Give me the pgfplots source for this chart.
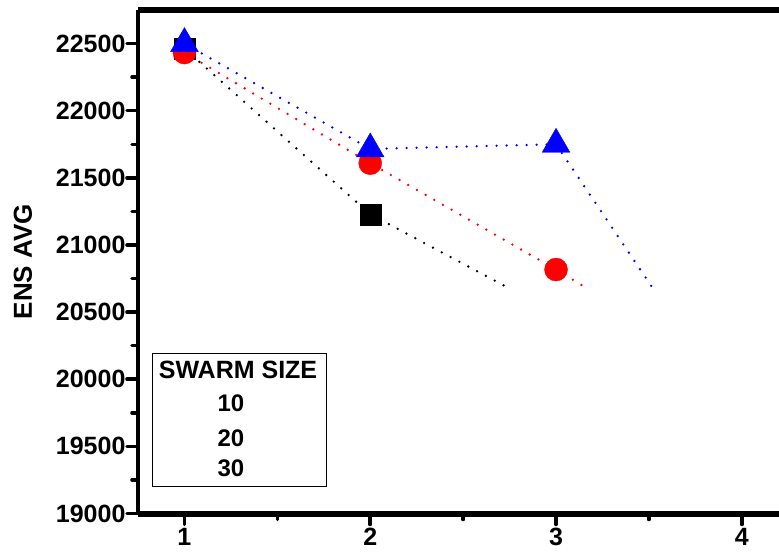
\documentclass[border=0pt]{standalone}
\usepackage{fontspec}
\setmainfont{Liberation Sans}
\usepackage{pgfplots}
\pgfplotsset{compat=1.18}
\pgfplotsset{every tick/.style={line width=3.5pt, line cap=round, black}}
\begin{document}
\begin{tikzpicture}
\begin{axis}[
 scale only axis, width=641pt, height=503.5pt,
 xmin=0.75, xmax=4.2, ymin=19000, ymax=22750,
 axis x line=box, axis y line=left, axis line style={-},
 x axis line style={line width=6pt}, y axis line style={line width=3.5pt},
 xtick={1,2,3,4}, ytick={19000,19500,...,22500},
 scaled y ticks=false, scaled x ticks=false,
 minor x tick num=1, minor y tick num=1,
 tick pos=left, tick align=outside,
 major tick length=11pt, minor tick length=6pt,
 /pgf/number format/assume math mode=true,
 /pgf/number format/1000 sep={},
 ticklabel style={font=\fontsize{25}{30}\selectfont\bfseries},
 yticklabel style={xshift=2pt},
 ylabel={ENS AVG},
 every axis y label/.style={at={(rel axis cs:0,0.5)}, xshift=-115pt, rotate=90, anchor=center, font=\fontsize{26}{30}\selectfont\bfseries},
 clip=false,
]
\addplot[black, line width=2.6pt, dash pattern=on 0pt off 10pt, line cap=round] coordinates {(1,22463)(2,21229)(2.74,20683)};
\addplot[red, line width=2.6pt, dash pattern=on 0pt off 10pt, line cap=round] coordinates {(1,22433)(2,21609)(3,20817)(3.16,20683)};
\addplot[blue, line width=2.6pt, dash pattern=on 0pt off 10pt, line cap=round] coordinates {(1,22500)(2,21715)(3,21750)(3.536,20646)};
\addplot[only marks, mark=square*, mark size=10.5pt, black] coordinates {(1,22463)(2,21229)};
\addplot[only marks, mark=*, mark size=11.5pt, red, mark options={fill=red, draw=red}] coordinates {(1,22433)(2,21609)(3,20817)};
\addplot[only marks, mark=triangle*, mark size=16pt, blue, mark options={fill=blue, draw=blue}] coordinates {(1,22500)(2,21715)(3,21750)};
\coordinate (bl) at (rel axis cs:0,0);
\coordinate (tr) at (rel axis cs:1,1);
\end{axis}
\draw[line width=1pt] ([shift={(15pt,27.5pt)}]bl) rectangle ([shift={(188pt,160.5pt)}]bl);
\node[font=\fontsize{25}{30}\selectfont\bfseries] at ([shift={(100pt,143.5pt)}]bl) {SWARM SIZE};
\node[font=\fontsize{24}{30}\selectfont\bfseries] at ([shift={(93pt,110.5pt)}]bl) {10};
\node[font=\fontsize{24}{30}\selectfont\bfseries] at ([shift={(93pt,75.5pt)}]bl) {20};
\node[font=\fontsize{24}{30}\selectfont\bfseries] at ([shift={(93pt,45.5pt)}]bl) {30};
\pgfresetboundingbox
\path[use as bounding box] ([shift={(-138pt,-41.5pt)}]bl) rectangle ([shift={(0pt,10pt)}]tr);
\end{tikzpicture}
\end{document}
